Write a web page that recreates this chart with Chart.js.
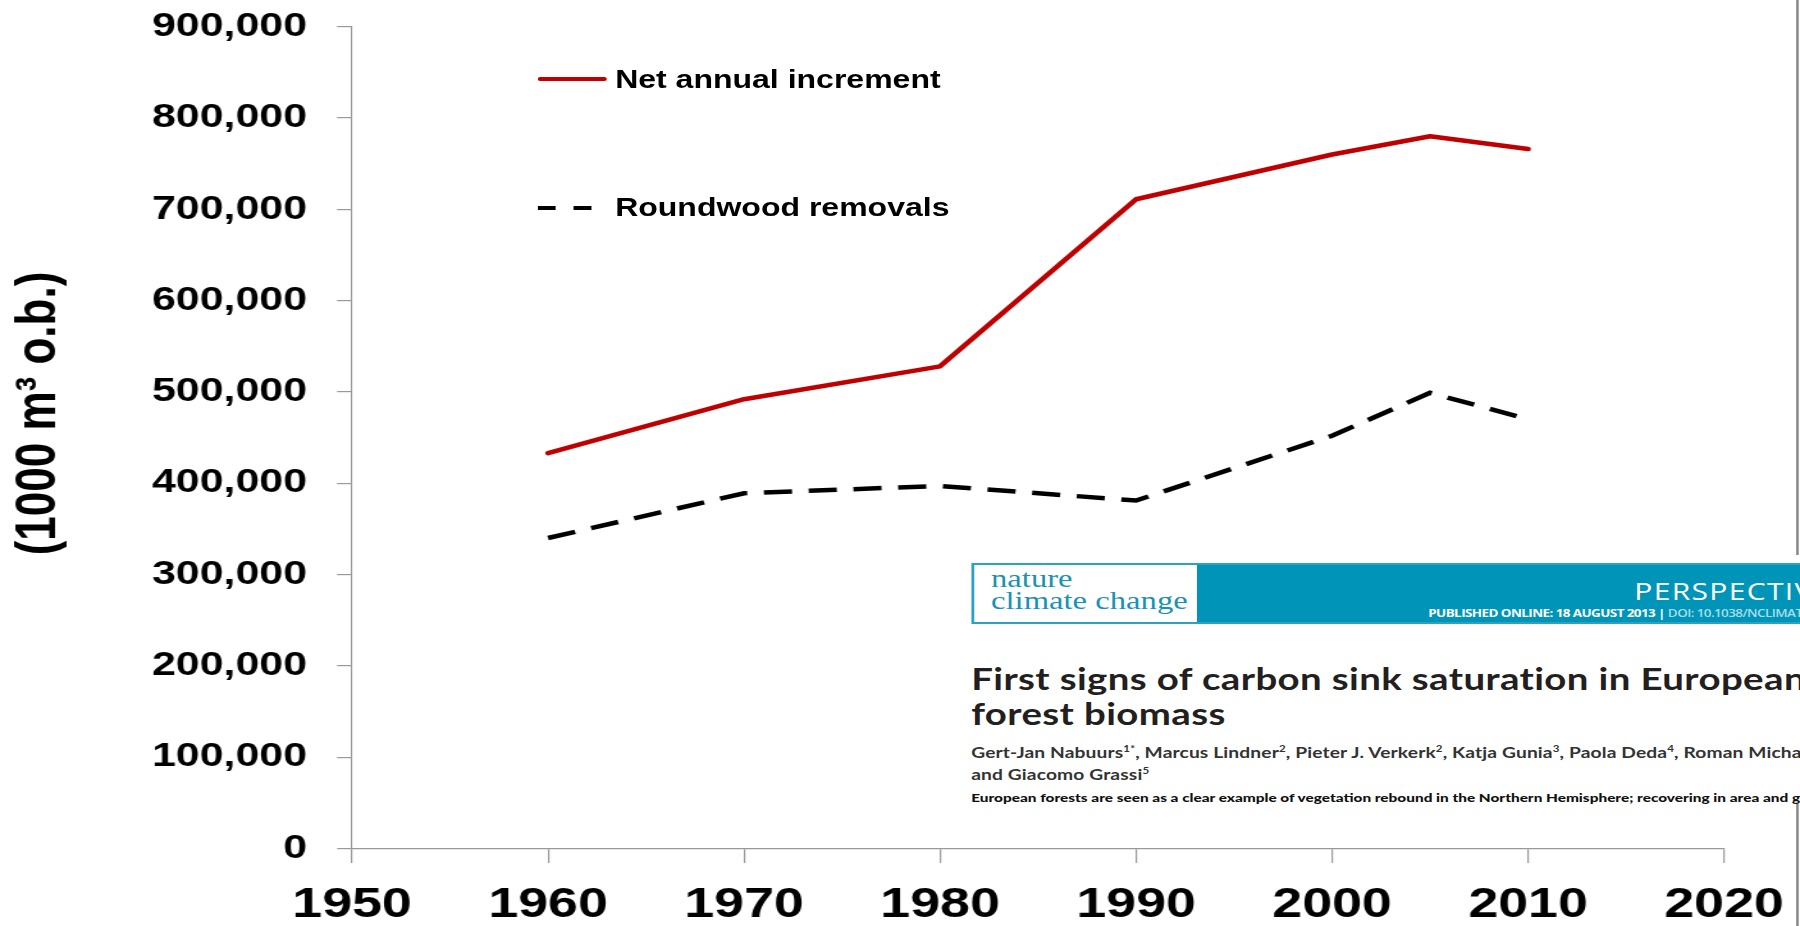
<!DOCTYPE html>
<html>
<head>
<meta charset="utf-8">
<script src="https://cdn.jsdelivr.net/npm/chart.js@4.4.1/dist/chart.umd.min.js"></script>
<style>
  html, body { margin:0; padding:0; background:#fff; overflow:hidden; width:1800px; height:926px; }
  #stage { position:absolute; left:0; top:0; width:1406px; height:926px; transform:scaleX(1.28023); transform-origin:0 0; }
  #wrap { position:absolute; left:0; top:0; width:1406px; height:926px; }
  .edge { position:absolute; left:1403px; top:0; width:2.3px; height:926px; background:#8a8a8a; }
  .lg-text { position:absolute; font:bold 25px "Liberation Sans", Arial, sans-serif; line-height:30px; color:#000; white-space:nowrap; }
  .lg-line { position:absolute; background:#c00000; height:4px; border-radius:2px; }
  .lg-dash { position:absolute; background:#000; height:4.5px; }
  #paper { position:absolute; left:754px; top:555px; width:652px; height:249px; background:#fff; overflow:hidden; }
  #banner { position:absolute; left:4.6px; top:8px; width:700px; height:57px; background:#0095b8; border:2px solid #2aa3c2; }
  #logo { position:absolute; left:0; top:0; width:174.5px; height:57px; background:#fff; }
  #logoText { position:absolute; left:13.5px; top:2.6px; font:25.5px "Liberation Serif", "Times New Roman", serif; line-height:22px; color:#1a93b3; white-space:nowrap; }
  #persp { position:absolute; left:516px; top:13.5px; font:23.5px "Open Sans", sans-serif; line-height:24px; letter-spacing:1px; color:#fff; white-space:nowrap; }
  #pub { position:absolute; left:355px; top:42px; font:bold 10.5px "Open Sans", sans-serif; line-height:12px; letter-spacing:-0.45px; color:#fff; white-space:nowrap; }
  #pub span { color:#a9dcea; font-weight:600; }
  #title { position:absolute; left:4.6px; top:106px; font:bold 30px Lato, sans-serif; line-height:35px; letter-spacing:0.3px; color:#231f20; white-space:nowrap; }
  #authors { position:absolute; left:4.6px; top:186.2px; font:bold 15px Lato, sans-serif; line-height:22px; letter-spacing:0.1px; color:#333; white-space:nowrap; }
  #authors sup { font-size:9px; vertical-align:6px; line-height:0; }
  #abstract { position:absolute; left:4.6px; top:234.8px; font:900 12px Lato, sans-serif; line-height:16px; color:#111; white-space:nowrap; }
</style>
</head>
<body>
<div id="stage">
  <div class="edge"></div>
  <div id="wrap"><canvas id="c"></canvas></div>

  <div class="lg-line" style="left:419.5px; top:77px; width:54.7px;"></div>
  <div class="lg-text" style="left:480.5px; top:64.3px;" id="lg1"></div>
  <div class="lg-dash" style="left:419.5px; top:205.5px; width:14px;"></div>
  <div class="lg-dash" style="left:447.7px; top:205.5px; width:14.8px;"></div>
  <div class="lg-text" style="left:480.5px; top:192px;" id="lg2"></div>

  <div id="paper">
    <div id="banner">
      <div id="logo"><div id="logoText">nature<br>climate change</div></div>
      <div id="persp">PERSPECTIVE</div>
      <div id="pub">PUBLISHED ONLINE: 18 AUGUST 2013 | <span>DOI: 10.1038/NCLIMATE1853</span></div>
    </div>
    <div id="title">First signs of carbon sink saturation in European<br>forest biomass</div>
    <div id="authors">Gert-Jan Nabuurs<sup>1*</sup>, Marcus Lindner<sup>2</sup>, Pieter J. Verkerk<sup>2</sup>, Katja Gunia<sup>3</sup>, Paola Deda<sup>4</sup>, Roman Michalak<sup>4</sup><br>and Giacomo Grassi<sup>5</sup></div>
    <div id="abstract">European forests are seen as a clear example of vegetation rebound in the Northern Hemisphere; recovering in area and growing stock</div>
  </div>
</div>

<script>
// ---- data ----
const years = [1960, 1970, 1980, 1990, 2000, 2005, 2010];
const netAnnualIncrement = [433000, 492000, 528000, 711000, 760000, 780000, 766000];
const roundwoodRemovals = [340000, 389000, 397000, 381000, 452000, 499000, 470000];
const seriesNames = ['Net annual increment', 'Roundwood removals'];
const xMin = 1950, xMax = 2020, xStep = 10;
const yMin = 0, yMax = 900000, yStep = 100000;
const yTitle = '(1000 m\u00B3 o.b.)';

document.getElementById('lg1').textContent = seriesNames[0];
document.getElementById('lg2').textContent = seriesNames[1];

const toPoints = (xs, ys) => xs.map((x, i) => ({ x: x, y: ys[i] }));

const yTitlePlugin = {
  id: 'yTitle',
  afterDraw(chart) {
    const ctx = chart.ctx;
    ctx.save();
    ctx.translate(31.25, 413.5);
    ctx.rotate(-Math.PI / 2);
    ctx.font = 'bold 44px "Liberation Sans", Arial, sans-serif';
    ctx.fillStyle = '#000';
    ctx.textAlign = 'center';
    ctx.textBaseline = 'middle';
    ctx.fillText(yTitle, 0, 0);
    ctx.restore();
  }
};

new Chart(document.getElementById('c'), {
  type: 'line',
  data: {
    datasets: [
      {
        label: seriesNames[0],
        data: toPoints(years, netAnnualIncrement),
        borderColor: '#c00000',
        borderWidth: 4.5,
        borderCapStyle: 'round',
        borderJoinStyle: 'round',
        pointRadius: 0,
        tension: 0,
        fill: false
      },
      {
        label: seriesNames[1],
        data: toPoints(years, roundwoodRemovals),
        borderColor: '#000000',
        borderWidth: 4.5,
        borderDash: [22, 13],
        borderCapStyle: 'butt',
        pointRadius: 0,
        tension: 0,
        fill: false
      }
    ]
  },
  options: {
    responsive: true,
    maintainAspectRatio: false,
    animation: false,
    layout: { padding: { top: 26.7, right: 59.3, left: 0, bottom: 0 } },
    plugins: { legend: { display: false }, tooltip: { enabled: false } },
    scales: {
      x: {
        type: 'linear',
        min: xMin, max: xMax,
        afterFit(s) { s.height = 77.6; s.paddingLeft = 0; s.paddingRight = 0; },
        grid: { drawOnChartArea: false, drawTicks: true, tickLength: 14.6, color: '#999', lineWidth: 1.2 },
        border: { display: true, color: '#999', width: 1.3 },
        ticks: {
          stepSize: xStep,
          padding: 17,
          color: '#000',
          maxRotation: 0,
          autoSkip: false,
          font: { family: '"Liberation Sans", Arial, sans-serif', size: 42, weight: 'bold' },
          callback: v => String(v)
        }
      },
      y: {
        min: yMin, max: yMax,
        afterFit(s) { s.width = 275; s.paddingTop = 0; s.paddingBottom = 0; },
        grid: { drawOnChartArea: false, drawTicks: true, tickLength: 11.7, color: '#999', lineWidth: 1.2 },
        border: { display: true, color: '#999', width: 1.1 },
        ticks: {
          stepSize: yStep,
          padding: 23.5,
          color: '#000',
          font: { family: '"Liberation Sans", Arial, sans-serif', size: 33.5, weight: 'bold' },
          callback: v => Number(v).toLocaleString('en-US')
        }
      }
    }
  },
  plugins: [yTitlePlugin]
});
</script>
</body>
</html>
